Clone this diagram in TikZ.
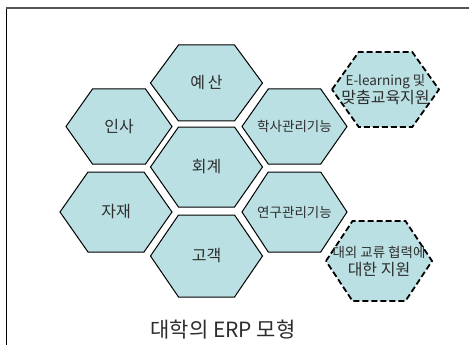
\documentclass[tikz,border=0pt]{standalone}
\usepackage{fontspec}
\setmainfont{Noto Sans CJK KR}
\usepackage{tikz}
\definecolor{hexfill}{RGB}{187,224,227}
\definecolor{inkgray}{RGB}{45,45,45}
\definecolor{framegray}{RGB}{85,85,85}

% hexagon cell: [style]{name}{centre}{half width}{half height}{text}
\newcommand{\hexcell}[6][cell]{%
  \draw[#1,shift={(#3)}] (-#4,0) -- ({-#4/2},-#5) -- ({#4/2},-#5) -- (#4,0)
    -- ({#4/2},#5) -- ({-#4/2},#5) -- cycle;
  \node[lbl] (#2) at (#3) {#6};
}

\begin{document}
\begin{tikzpicture}[x=1pt,y=-1pt,
  cell/.style={draw=black,line width=1pt,fill=hexfill,line join=miter},
  dcell/.style={draw=black,line width=1.8pt,fill=hexfill,dash pattern=on 6pt off 3pt},
  lbl/.style={text=inkgray,align=center,inner sep=0pt,font=\fontsize{16}{18}\selectfont}]
\useasboundingbox (0,0) rectangle (469,345);
%================================================================
%	Frame
\draw[line width=1.5pt,black] (6.5,345) -- (6.5,8.5);
\draw[line width=2pt,framegray] (5.75,8.5) -- (469,8.5);

%================================================================
%	Middle column
\hexcell{yesan}{206.5,83}{56}{38}{예\,산}
\hexcell{hoegye}{206.5,167}{56}{40}{회계}
\hexcell{gogaek}{206.5,256}{56}{41}{고객}
%----------------------------------------------------------------
%	Left column
\hexcell{insa}{119,126.5}{53}{37.5}{인사}
\hexcell{jajae}{116,212}{56}{40}{자재}
%----------------------------------------------------------------
%	Right column
\hexcell{haksa}{294.5,126.5}{52.5}{37.5}{\fontsize{13.5}{16}\selectfont 학사관리기능}
\hexcell{yeongu}{294.5,212}{52.5}{40}{\fontsize{13.5}{16}\selectfont 연구관리기능}

%================================================================
%	Dashed cells
\hexcell[dcell]{elearn}{385.5,89.5}{53.5}{37.5}{\fontsize{13.5}{16}\selectfont E-learning 및\\맞춤교육지원}
\hexcell[dcell]{daeoe}{379,261}{53}{40}{\fontsize{13.5}{16.5}\selectfont 대외 교류 협력에\\대한 지원}

%================================================================
%	Caption
\node[text=inkgray,font=\fontsize{21}{24}\selectfont] (caption) at (223,330) {대학의 ERP 모형};
%================================================================
\end{tikzpicture}
\end{document}
